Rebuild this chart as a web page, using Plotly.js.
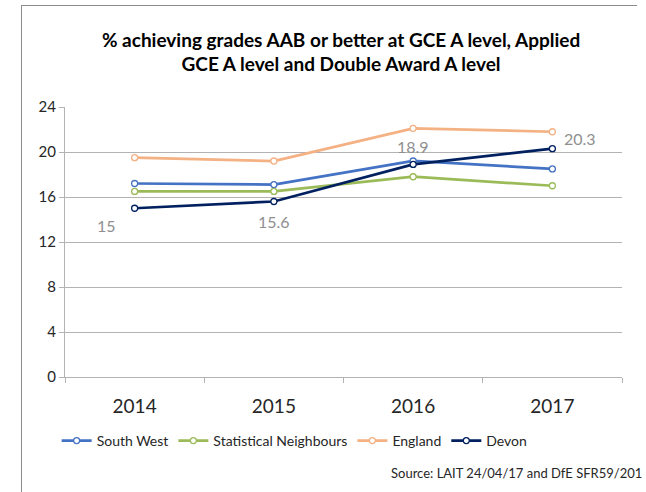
<!DOCTYPE html>
<html>
<head>
<meta charset="utf-8">
<script src="https://cdn.plot.ly/plotly-3.0.1.min.js"></script>
<style>
  html, body { margin: 0; padding: 0; background: #fff; }
  #wrap { position: relative; width: 646px; height: 492px; overflow: hidden; }
  #chart { width: 646px; height: 492px; }
  #frame { position: absolute; left: 21px; top: 5px; width: 615px; height: 500px;
           border-left: 1px solid #8c8c8c; border-top: 1px solid #8c8c8c; pointer-events: none; }
</style>
</head>
<body>
<div id="wrap">
  <div id="chart"></div>
  <div id="frame"></div>
</div>
<script>
const years = ["2014", "2015", "2016", "2017"];
const southWest = [17.2, 17.1, 19.2, 18.5];
const statNeighbours = [16.5, 16.5, 17.8, 17.0];
const england = [19.5, 19.2, 22.1, 21.8];
const devon = [15.0, 15.6, 18.9, 20.3];
const devonLabels = ["15", "15.6", "18.9", "20.3"];
const yTicks = [0, 4, 8, 12, 16, 20, 24];

function series(name, y, color) {
  return {
    type: "scatter", mode: "lines+markers", name: name, x: years.slice(), y: y,
    line: { color: color, width: 2.75 },
    marker: { symbol: "circle", size: 6, color: "#ffffff", line: { color: color, width: 1.3 } },
    hoverinfo: "x+y+name"
  };
}

const traces = [
  series("South West", southWest, "#4472C4"),
  series("Statistical Neighbours", statNeighbours, "#9BBB59"),
  series("England", england, "#F4B183"),
  series("Devon", devon, "#002060")
];

// label offsets (pixels) to mimic the reference placement
const labelShift = [[-28, -17], [0, -20], [0, 18], [28, 10]];
const annotations = devonLabels.map((t, i) => ({
  x: i, y: devon[i], xref: "x", yref: "y", text: t, showarrow: false,
  xshift: labelShift[i][0], yshift: labelShift[i][1],
  font: { family: "Lato, 'Open Sans', sans-serif", size: 16, color: "#8f8f8f" }
}));
annotations.push({
  xref: "paper", yref: "paper", x: 1.0395, y: -0.356, xanchor: "right", yanchor: "middle",
  text: "Source: LAIT 24/04/17 and DfE SFR59/201", showarrow: false,
  font: { family: "Lato, 'Open Sans', sans-serif", size: 13, color: "#262626" }
});

const layout = {
  width: 646, height: 492,
  margin: { l: 65, r: 24, t: 107, b: 115 },
  paper_bgcolor: "#ffffff", plot_bgcolor: "#ffffff",
  font: { family: "Lato, 'Open Sans', sans-serif", color: "#404040" },
  title: {
    text: "% achieving grades AAB or better at GCE A level, Applied<br>GCE A level and Double Award A level",
    font: { family: "Lato, 'Open Sans', sans-serif", size: 19, color: "#000000", weight: "bold" },
    x: 0.528, xanchor: "center", y: 0.905, yanchor: "middle"
  },
  xaxis: {
    type: "category", range: [-0.5, 3.5], tickson: "boundaries", ticks: "outside", ticklen: 5, tickcolor: "#b3b3b3",
    showline: true, linecolor: "#b3b3b3", linewidth: 1, showgrid: false, zeroline: false,
    tickangle: 0, ticklabelstandoff: 12, tickfont: { size: 19, color: "#262626" }, fixedrange: true
  },
  yaxis: {
    range: [0, 24], tickvals: yTicks, ticktext: yTicks.map(String),
    ticks: "outside", ticklen: 5, tickcolor: "#b3b3b3",
    showline: true, linecolor: "#b3b3b3", linewidth: 1,
    showgrid: true, gridcolor: "#b3b3b3", gridwidth: 1, zeroline: false,
    tickfont: { size: 15, color: "#262626" }, fixedrange: true
  },
  showlegend: true,
  legend: {
    orientation: "h", x: -0.015, xanchor: "left", y: -0.237, yanchor: "middle",
    font: { size: 14, color: "#262626" }, bgcolor: "rgba(0,0,0,0)", tracegroupgap: 0
  },
  annotations: annotations
};

Plotly.newPlot("chart", traces, layout, { displayModeBar: false, staticPlot: true });
</script>
</body>
</html>
